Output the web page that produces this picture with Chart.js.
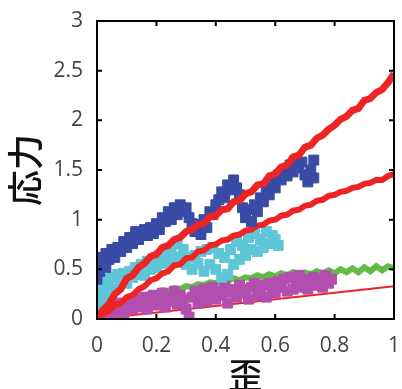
<!DOCTYPE html>
<html>
<head>
<meta charset="utf-8">
<script src="https://cdn.jsdelivr.net/npm/chart.js@4/dist/chart.umd.min.js"></script>
<style>
  html, body { margin: 0; padding: 0; background: #fff; }
  #box { width: 402px; height: 389px; }
</style>
</head>
<body>
<div id="box"><canvas id="stressChart"></canvas></div>
<script>
// ---- data ----
const xTicks = [0, 0.2, 0.4, 0.6, 0.8, 1];
const yTicks = [0, 0.5, 1, 1.5, 2, 2.5, 3];

const lineStrain = [0,0.02,0.04,0.06,0.08,0.1,0.12,0.14,0.16,0.18,0.2,0.22,0.24,0.26,0.28,0.3,0.32,0.34,0.36,0.38,0.4,
  0.42,0.44,0.46,0.48,0.5,0.52,0.54,0.56,0.58,0.6,0.62,0.64,0.66,0.68,0.7,0.72,0.74,0.76,0.78,0.8,
  0.82,0.84,0.86,0.88,0.9,0.92,0.94,0.96,0.98,1];

const redHigh = [0,0.09,0.15,0.25,0.30,0.41,0.44,0.52,0.56,0.63,0.65,0.72,0.74,0.80,0.82,0.88,0.90,0.95,0.96,1.03,1.04,
  1.10,1.11,1.18,1.19,1.26,1.28,1.35,1.36,1.44,1.46,1.53,1.55,1.63,1.65,1.73,1.75,1.82,1.85,1.91,1.95,
  2.01,2.04,2.10,2.12,2.20,2.22,2.28,2.31,2.38,2.47];

const redMid = [0,0.05,0.08,0.14,0.16,0.22,0.24,0.30,0.33,0.39,0.41,0.46,0.48,0.54,0.55,0.61,0.62,0.68,0.69,0.74,0.75,
  0.79,0.80,0.84,0.85,0.89,0.90,0.94,0.95,0.99,1.00,1.04,1.05,1.09,1.10,1.14,1.15,1.19,1.20,1.24,1.25,
  1.28,1.29,1.32,1.33,1.36,1.37,1.40,1.40,1.44,1.46];

const green = [0,0.05,0.07,0.12,0.13,0.18,0.18,0.22,0.22,0.26,0.25,0.29,0.28,0.31,0.30,0.33,0.32,0.35,0.34,0.37,0.36,
  0.39,0.38,0.41,0.39,0.42,0.41,0.44,0.42,0.45,0.43,0.46,0.44,0.47,0.45,0.47,0.45,0.48,0.46,0.49,0.46,
  0.50,0.47,0.51,0.47,0.52,0.48,0.53,0.49,0.53,0.51];

const redLowStrain = [0, 0.2, 0.4, 0.6, 0.8, 1];
const redLow = [0, 0.065, 0.13, 0.2, 0.265, 0.33];

const blueStrain = [0,0,0.01,0.01,0.02,0.03,0.03,0.04,0.05,0.06,0.07,0.08,0.09,0.1,0.11,0.12,0.13,0.14,0.15,0.16,
  0.17,0.18,0.19,0.2,0.21,0.22,0.23,0.24,0.25,0.26,0.27,0.28,0.29,0.3,0.31,0.32,0.33,0.34,0.35,0.36,
  0.37,0.38,0.39,0.4,0.41,0.42,0.43,0.44,0.45,0.46,0.47,0.48,0.49,0.5,0.51,0.52,0.53,0.54,0.55,0.56,
  0.57,0.58,0.59,0.6,0.61,0.62,0.63,0.64,0.65,0.66,0.67,0.68,0.69,0.7,0.71,0.72,0.73,0.73];
const blueStress = [0.40,0.55,0.62,0.48,0.58,0.66,0.52,0.60,0.70,0.62,0.72,0.68,0.78,0.72,0.82,0.76,0.88,0.80,0.86,0.90,
  0.84,0.92,0.86,0.96,0.90,1.02,0.98,1.08,1.00,1.12,1.05,1.15,1.08,1.12,1.02,0.96,0.88,0.95,0.85,1.00,
  0.92,1.08,1.05,1.15,1.20,1.28,1.22,1.35,1.30,1.40,1.32,1.25,1.12,1.02,1.10,0.98,1.15,1.08,1.22,1.18,
  1.30,1.25,1.38,1.32,1.45,1.40,1.50,1.44,1.55,1.48,1.60,1.52,1.58,1.45,1.38,1.50,1.42,1.60];

const cyanStrain = [0,0,0.01,0.01,0.02,0.03,0.03,0.04,0.05,0.06,0.07,0.08,0.09,0.1,0.11,0.12,0.13,0.14,0.15,0.16,
  0.17,0.18,0.19,0.2,0.21,0.22,0.23,0.24,0.25,0.26,0.27,0.28,0.29,0.3,0.31,0.32,0.33,0.34,0.35,0.36,
  0.37,0.38,0.39,0.4,0.41,0.42,0.43,0.44,0.45,0.46,0.47,0.48,0.49,0.5,0.51,0.52,0.53,0.54,0.55,0.56,
  0.57,0.58,0.59,0.6,0.61];
const cyanStress = [0.10,0.25,0.18,0.35,0.28,0.22,0.40,0.32,0.42,0.30,0.45,0.38,0.46,0.36,0.48,0.42,0.52,0.45,0.55,0.44,
  0.58,0.50,0.60,0.52,0.64,0.56,0.68,0.58,0.72,0.62,0.76,0.60,0.70,0.55,0.62,0.50,0.64,0.56,0.68,0.48,
  0.70,0.55,0.72,0.50,0.66,0.42,0.62,0.45,0.70,0.55,0.78,0.60,0.74,0.64,0.82,0.70,0.86,0.68,0.80,0.72,
  0.88,0.76,0.84,0.80,0.74];

const magStrain = [0,0,0.01,0.02,0.03,0.04,0.05,0.06,0.07,0.08,0.09,0.1,0.11,0.12,0.13,0.14,0.15,0.16,0.17,0.18,
  0.19,0.2,0.21,0.22,0.23,0.24,0.25,0.26,0.27,0.28,0.29,0.3,0.31,0.32,0.33,0.34,0.35,0.36,0.37,0.38,
  0.39,0.4,0.41,0.42,0.43,0.44,0.45,0.46,0.47,0.48,0.49,0.5,0.51,0.52,0.53,0.54,0.55,0.56,0.57,0.58,
  0.59,0.6,0.61,0.62,0.63,0.64,0.65,0.66,0.67,0.68,0.69,0.7,0.71,0.72,0.73,0.74,0.75,0.76,0.77,0.78,0.79];
const magStress = [0.02,0.10,0.05,0.12,0.04,0.10,0.06,0.14,0.08,0.16,0.05,0.12,0.18,0.10,0.20,0.12,0.16,0.22,0.10,0.18,
  0.24,0.14,0.20,0.26,0.12,0.22,0.18,0.28,0.15,0.24,0.20,0.10,0.02,0.22,0.28,0.16,0.25,0.30,0.18,0.26,
  0.32,0.20,0.28,0.24,0.33,0.16,0.27,0.30,0.22,0.34,0.26,0.30,0.20,0.32,0.36,0.24,0.30,0.34,0.22,0.36,
  0.30,0.26,0.38,0.32,0.40,0.28,0.42,0.30,0.36,0.44,0.32,0.40,0.30,0.38,0.42,0.34,0.40,0.32,0.44,0.36,0.40];

// ---- helpers ----
function pts(xs, ys) {
  return xs.map((x, i) => ({ x: x, y: ys[i] }));
}

const RED = '#ee2424';

// frame + inward tick marks on all four sides
const framePlugin = {
  id: 'frame',
  afterDatasetsDraw(chart) {
    const { ctx, chartArea: a, scales } = chart;
    ctx.save();
    ctx.strokeStyle = '#000';
    ctx.lineWidth = 2;
    ctx.strokeRect(a.left, a.top, a.right - a.left, a.bottom - a.top);
    ctx.beginPath();
    xTicks.slice(1, -1).forEach(v => {
      const px = scales.x.getPixelForValue(v);
      ctx.moveTo(px, a.bottom); ctx.lineTo(px, a.bottom - 5);
      ctx.moveTo(px, a.top); ctx.lineTo(px, a.top + 5);
    });
    yTicks.slice(1, -1).forEach(v => {
      const py = scales.y.getPixelForValue(v);
      ctx.moveTo(a.left, py); ctx.lineTo(a.left + 5, py);
      ctx.moveTo(a.right, py); ctx.lineTo(a.right - 5, py);
    });
    ctx.stroke();
    ctx.restore();
  }
};

const tickFont = { family: 'Open Sans', size: 21 };

new Chart(document.getElementById('stressChart').getContext('2d'), {
  type: 'scatter',
  data: {
    datasets: [
      { type: 'line', data: pts(redLowStrain, redLow), borderColor: RED, borderWidth: 2, pointRadius: 0, order: 7 },
      { type: 'line', data: pts(lineStrain, green), borderColor: '#62bb46', borderWidth: 6, pointRadius: 0, order: 6 },
      { data: pts(magStrain, magStress), backgroundColor: '#b24fae', borderColor: '#b24fae', pointStyle: 'rect', pointRadius: 7, order: 5 },
      { data: pts(cyanStrain, cyanStress), backgroundColor: '#5ec6d8', borderColor: '#5ec6d8', pointStyle: 'rect', pointRadius: 7, order: 4 },
      { type: 'line', data: pts(lineStrain, redMid), borderColor: RED, borderWidth: 6, pointRadius: 0, order: 3 },
      { data: pts(blueStrain, blueStress), backgroundColor: '#3a4ba6', borderColor: '#3a4ba6', pointStyle: 'rect', pointRadius: 7, order: 2 },
      { type: 'line', data: pts(lineStrain, redHigh), borderColor: RED, borderWidth: 7, pointRadius: 0, order: 1 }
    ]
  },
  options: {
    responsive: true,
    maintainAspectRatio: false,
    animation: false,
    layout: { padding: { top: 21, right: 7, left: 0, bottom: 0 } },
    plugins: {
      legend: { display: false },
      tooltip: { enabled: false }
    },
    scales: {
      x: {
        type: 'linear',
        min: 0, max: 1,
        grid: { display: false, drawTicks: false },
        border: { display: false },
        afterFit: s => { s.height = 70; s.paddingLeft = 0; s.paddingRight = 0; },
        afterBuildTicks: s => { s.ticks = xTicks.map(v => ({ value: v })); },
        ticks: { color: '#444', padding: 14, font: tickFont, maxRotation: 0, callback: v => String(v) },
        title: {
          display: true, text: '歪', color: '#111',
          font: { family: 'Noto Sans CJK JP', size: 34, weight: '500' },
          padding: { top: 0, bottom: -6 }
        }
      },
      y: {
        min: 0, max: 3,
        grid: { display: false, drawTicks: false },
        border: { display: false },
        afterFit: s => { s.width = 97; s.paddingTop = 0; s.paddingBottom = 0; },
        afterBuildTicks: s => { s.ticks = yTicks.map(v => ({ value: v })); },
        ticks: { color: '#444', padding: 14, font: tickFont, callback: v => String(v) },
        title: {
          display: true, text: '応力', color: '#111',
          font: { family: 'Noto Sans CJK JP', size: 36, weight: '500' },
          padding: { top: 4, bottom: 0 }
        }
      }
    }
  },
  plugins: [framePlugin]
});
</script>
</body>
</html>
